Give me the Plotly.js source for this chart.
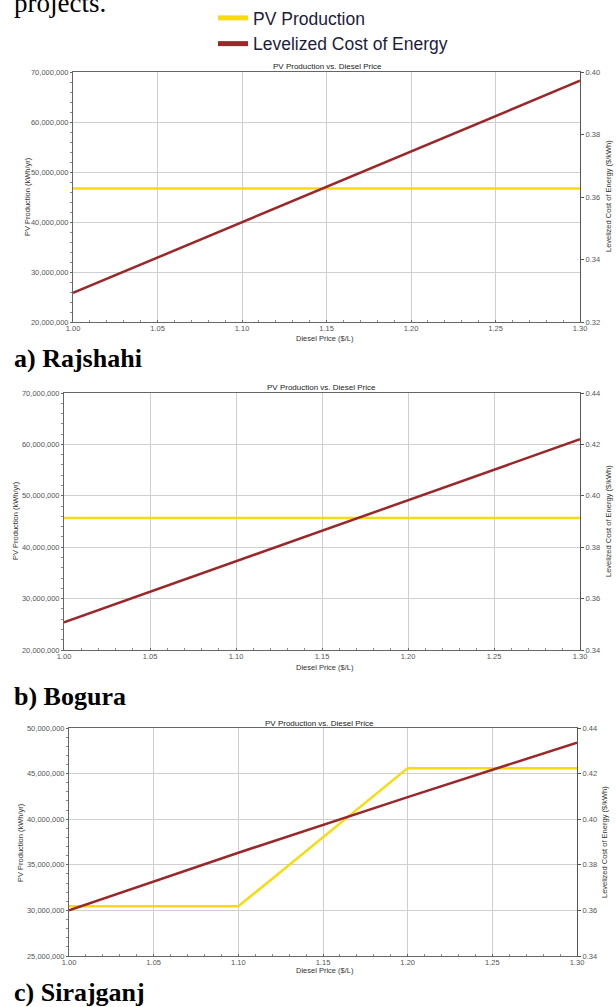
<!DOCTYPE html>
<html>
<head>
<meta charset="utf-8">
<script src="https://cdn.plot.ly/plotly-3.0.1.min.js"></script>
<style>
  html, body { margin: 0; padding: 0; background: #fff; }
  #chart { width: 616px; height: 1007px; }
</style>
</head>
<body>
<div id="chart"></div>
<script>
// ---------- Data ----------
const dieselPrice = [1.00, 1.10, 1.20, 1.30];

const pvRajshahi   = [46700000, 46700000, 46700000, 46700000];
const lcoeRajshahi = [0.3293, 0.3519, 0.3745, 0.3972];

const pvBogura   = [45700000, 45700000, 45700000, 45700000];
const lcoeBogura = [0.3508, 0.3745, 0.3983, 0.4220];

const pvSirajganj   = [30450000, 30450000, 45600000, 45600000];
const lcoeSirajganj = [0.3600, 0.3853, 0.4097, 0.4336];

const seriesNames = ["PV Production", "Levelized Cost of Energy"];
const panelLabels = ["a) Rajshahi", "b) Bogura", "c) Sirajganj"];
const chartTitle = "PV Production vs. Diesel Price";
const xTitle = "Diesel Price ($/L)";
const yLeftTitle = "PV Production (kWh/yr)";
const yRightTitle = "Levelized Cost of Energy ($/kWh)";
const leadText = "projects.";

// ---------- Styling / layout helpers ----------
const W = 616, H = 1007;
const px = x => x / W;
const py = y => 1 - y / H;
const YELLOW = "#f8da10";
const MAROON = "#9a282a";
const SANS = "Liberation Sans, Arial, sans-serif";
const SERIF = "Liberation Serif, Times New Roman, serif";

const panels = [
  { pv: pvRajshahi, lcoe: lcoeRajshahi, left: 73, right: 580, top: 72, bottom: 322,
    yRange: [20000000, 70000000], yDtick: 10000000, y2Range: [0.32, 0.40],
    titleX: 327, titleY: 67, xtY: 338, ylX: 27, ylY: 197, yrX: 608, yrY: 196, labY: 358 },
  { pv: pvBogura, lcoe: lcoeBogura, left: 64, right: 580, top: 393, bottom: 650,
    yRange: [20000000, 70000000], yDtick: 10000000, y2Range: [0.34, 0.44],
    titleX: 321, titleY: 387, xtY: 667, ylX: 15, ylY: 521, yrX: 608, yrY: 521, labY: 696 },
  { pv: pvSirajganj, lcoe: lcoeSirajganj, left: 69, right: 577, top: 728, bottom: 956,
    yRange: [25000000, 50000000], yDtick: 5000000, y2Range: [0.34, 0.44],
    titleX: 320, titleY: 723, xtY: 970, ylX: 20, ylY: 842, yrX: 604, yrY: 842, labY: 992 }
];

const data = [];
const layout = {
  width: W, height: H,
  margin: { l: 0, r: 0, t: 0, b: 0 },
  paper_bgcolor: "#fff", plot_bgcolor: "#fff",
  font: { family: SANS, size: 7.5, color: "#444" },
  showlegend: true,
  legend: {
    x: px(213), y: py(0), xanchor: "left", yanchor: "top",
    font: { family: SANS, size: 17.5, color: "#1c1c3c" },
    bgcolor: "rgba(0,0,0,0)", borderwidth: 0, tracegroupgap: 0
  },
  annotations: []
};

const tickFont = { family: SANS, size: 7.5, color: "#555" };
const titleFont = { family: SANS, size: 7.5, color: "#333" };

panels.forEach((p, i) => {
  const n = i === 0 ? "" : String(2 * i + 1);
  const nx = i === 0 ? "" : String(i + 1);
  const xName = "x" + nx, yName = "y" + n;
  const y2Name = "y" + String(2 * i + 2);
  const xKey = "xaxis" + nx, yKey = "yaxis" + n, y2Key = "yaxis" + String(2 * i + 2);

  data.push({
    x: dieselPrice, y: p.pv, xaxis: xName, yaxis: yName, type: "scatter", mode: "lines",
    line: { color: YELLOW, width: 2.5 }, name: seriesNames[0], showlegend: false, hoverinfo: "skip"
  });
  data.push({
    x: dieselPrice, y: p.lcoe, xaxis: xName, yaxis: y2Name, type: "scatter", mode: "lines",
    line: { color: MAROON, width: 2.5 }, name: seriesNames[1], showlegend: false, hoverinfo: "skip"
  });

  layout[xKey] = {
    domain: [px(p.left), px(p.right)], anchor: yName,
    range: [1.0, 1.3], tick0: 1.0, dtick: 0.05, tickformat: ".2f",
    showgrid: true, gridcolor: "#cfcfcf", gridwidth: 1,
    showline: true, linecolor: "#666", linewidth: 1, mirror: true,
    ticks: "inside", ticklen: 2, tickcolor: "#666", ticklabelstandoff: -1,
    minor: { dtick: 0.01, ticks: "inside", ticklen: 2, tickcolor: "#888", showgrid: false },
    tickfont: tickFont, zeroline: false, fixedrange: true
  };
  layout[yKey] = {
    domain: [py(p.bottom), py(p.top)], anchor: xName,
    range: p.yRange, tick0: p.yRange[0], dtick: p.yDtick, tickformat: ",.0f",
    showgrid: true, gridcolor: "#cfcfcf", gridwidth: 1,
    showline: true, linecolor: "#666", linewidth: 1, mirror: true,
    ticks: "outside", ticklen: 2, tickcolor: "#666",
    minor: { dtick: p.yDtick / 5, ticks: "outside", ticklen: 2, tickcolor: "#888", showgrid: false },
    tickfont: tickFont, zeroline: false, fixedrange: true
  };
  layout[y2Key] = {
    overlaying: yName, side: "right", anchor: xName,
    range: p.y2Range, tick0: p.y2Range[0], dtick: 0.02, tickformat: ".2f",
    showgrid: false, showline: true, linecolor: "#555", linewidth: 1,
    ticks: "outside", ticklen: 3, tickcolor: "#555",
    tickfont: tickFont, zeroline: false, fixedrange: true
  };

  layout.annotations.push(
    { text: chartTitle, x: px(p.titleX), y: py(p.titleY), xref: "paper", yref: "paper",
      xanchor: "center", yanchor: "middle", showarrow: false,
      font: { family: SANS, size: 8, color: "#222" } },
    { text: xTitle, x: px(325), y: py(p.xtY), xref: "paper", yref: "paper",
      xanchor: "center", yanchor: "middle", showarrow: false, font: titleFont },
    { text: yLeftTitle, x: px(p.ylX), y: py(p.ylY), xref: "paper", yref: "paper",
      xanchor: "center", yanchor: "middle", textangle: -90, showarrow: false, font: titleFont },
    { text: yRightTitle, x: px(p.yrX), y: py(p.yrY), xref: "paper", yref: "paper",
      xanchor: "center", yanchor: "middle", textangle: -90, showarrow: false, font: titleFont },
    { text: "<b>" + panelLabels[i] + "</b>", x: px(12), y: py(p.labY), xref: "paper", yref: "paper",
      xanchor: "left", yanchor: "middle", showarrow: false,
      font: { family: SERIF, size: 26, color: "#000" } }
  );
});

// legend-only traces (no marks)
data.push({ x: [null], y: [null], xaxis: "x", yaxis: "y", type: "scatter", mode: "lines",
  name: seriesNames[0], line: { color: YELLOW, width: 5 }, showlegend: true, hoverinfo: "skip" });
data.push({ x: [null], y: [null], xaxis: "x", yaxis: "y", type: "scatter", mode: "lines",
  name: seriesNames[1], line: { color: MAROON, width: 5 }, showlegend: true, hoverinfo: "skip" });

layout.annotations.push({
  text: leadText, x: px(12), y: py(3), xref: "paper", yref: "paper",
  xanchor: "left", yanchor: "middle", showarrow: false,
  font: { family: SERIF, size: 27, color: "#000" }
});

Plotly.newPlot("chart", data, layout, { displayModeBar: false, staticPlot: true });
</script>
</body>
</html>
